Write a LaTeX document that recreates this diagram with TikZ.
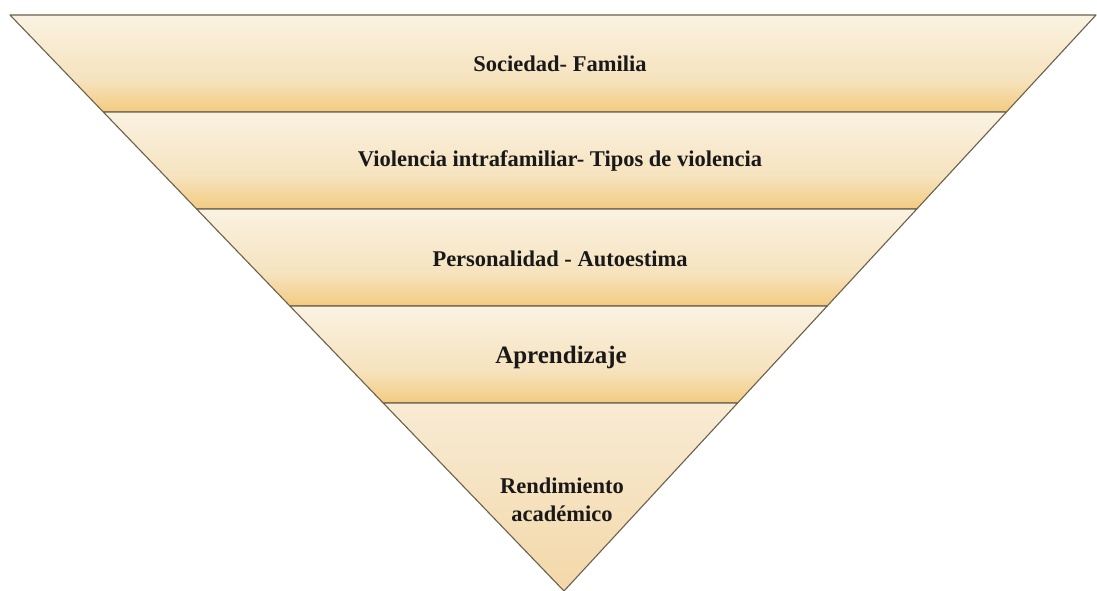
\documentclass[tikz,border=0pt]{standalone}
\usepackage{fontspec}
\setmainfont{Liberation Serif}[BoldFont={Liberation Serif Bold}]
\usetikzlibrary{calc}
\definecolor{bandtop}{HTML}{FAF2E2}
\definecolor{bandmid}{HTML}{F6E3BE}
\definecolor{bandbot}{HTML}{F3CB80}
\definecolor{tiptop}{HTML}{F8EBD4}
\definecolor{tipbot}{HTML}{F3D8A8}
\definecolor{edge}{HTML}{6B604C}
\pgfdeclareverticalshading{bandshade}{100bp}{color(0bp)=(bandbot); color(25bp)=(bandbot); color(42bp)=(bandmid); color(75bp)=(bandtop); color(100bp)=(bandtop)}
\tikzset{
    band/.style={shading=bandshade, draw=edge, line width=1.1pt, line join=round},
    tip/.style={top color=tiptop, bottom color=tipbot, draw=edge, line width=1.1pt, line join=round},
    lvl/.style={text=black!90, font=\bfseries\fontsize{22.5}{28}\selectfont, inner sep=0pt}
}
\begin{document}
\begin{tikzpicture}[x=1pt,y=-1pt]
        \useasboundingbox (0,0) rectangle (1097,591);
        \coordinate (L) at (10,15);
        \coordinate (R) at (1096,15);
        \coordinate (A) at (564,591);
        \foreach \i in {0,...,3}{
            \pgfmathsetmacro\ta{\i*97/576}
            \pgfmathsetmacro\tb{(\i+1)*97/576}
            \shade[band] ($(L)!\ta!(A)$) -- ($(R)!\ta!(A)$)
                -- ($(R)!\tb!(A)$) -- ($(L)!\tb!(A)$) -- cycle;
        }
        \shade[tip] ($(L)!388/576!(A)$) -- ($(R)!388/576!(A)$) -- (A) -- cycle;

        \node[lvl] (sociedad) at (560,64) {Sociedad- Familia};
        \node[lvl] (violencia) at (560,161) {Violencia intrafamiliar- Tipos de violencia};
        \node[lvl] (personalidad) at (560,259) {Personalidad - Autoestima};
        \node[lvl, font=\bfseries\fontsize{25}{30}\selectfont] (aprendizaje) at (561,357) {Aprendizaje};
        \node[lvl, align=center] (rendimiento) at (562,500) {Rendimiento\\académico};
    \end{tikzpicture}
\end{document}
